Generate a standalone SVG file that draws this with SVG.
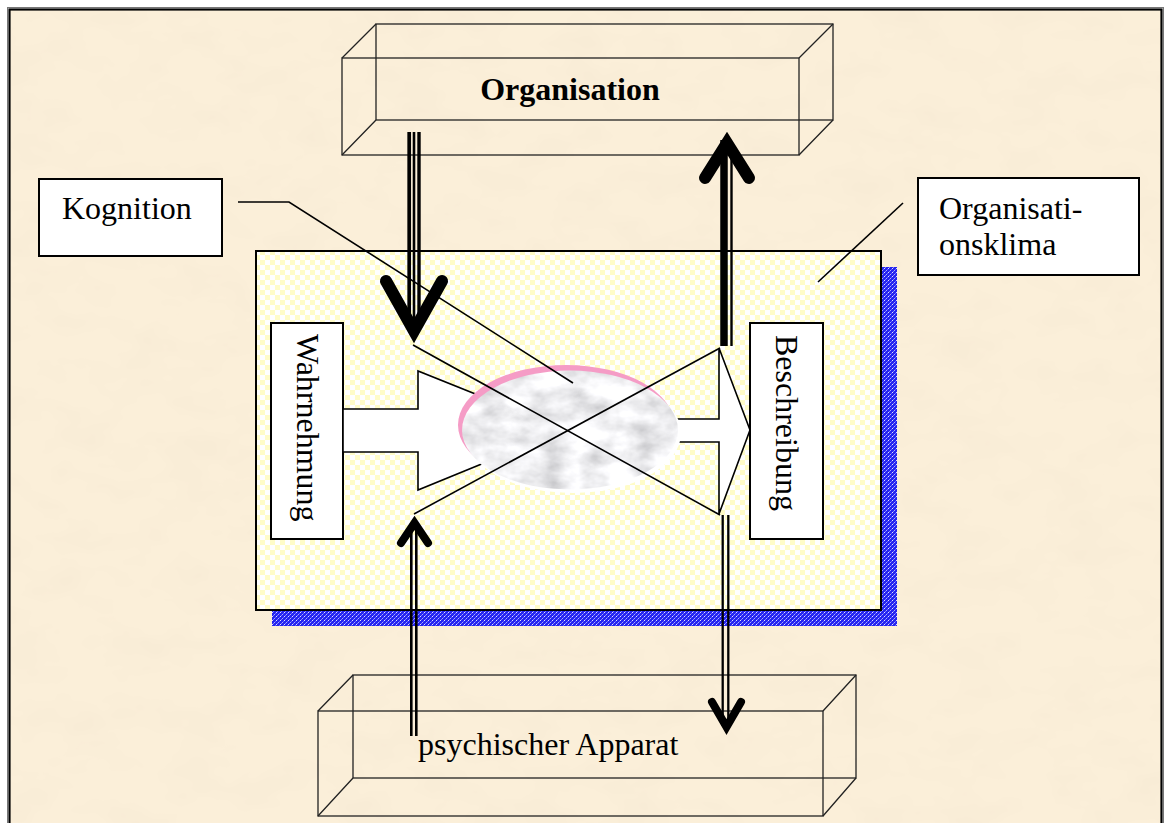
<svg xmlns="http://www.w3.org/2000/svg" width="1167" height="823" viewBox="0 0 1167 823">
  <style>
    .wire { fill: none; stroke: #222; stroke-width: 1.3; }
    .label { fill: #fff; stroke: #000; stroke-width: 2; }
    .txt { font-family: "Liberation Serif", "Times New Roman", serif; font-size: 32px; fill: #000; }
    .thin { stroke: #000; stroke-width: 1.6; fill: none; }
    .head { fill: none; stroke: #000; stroke-linecap: round; stroke-linejoin: miter; stroke-miterlimit: 10; }
    .bar { stroke: #000; fill: none; }
  </style>
  <defs>
    <pattern id="check" width="10" height="10" patternUnits="userSpaceOnUse">
      <rect width="10" height="10" fill="#ffffff"/>
      <rect width="5" height="5" fill="#fffcc8"/>
      <rect x="5" y="5" width="5" height="5" fill="#fffcc8"/>
    </pattern>
    <pattern id="dither" width="4" height="4" patternUnits="userSpaceOnUse">
      <rect width="4" height="4" fill="#2424f0"/>
      <rect x="0" y="0" width="1" height="1" fill="#e0e0ff"/>
      <rect x="2" y="2" width="1" height="1" fill="#a8a8ff"/>
      <rect x="3" y="1" width="1" height="1" fill="#6666ff"/>
      <rect x="1" y="3" width="1" height="1" fill="#8080ff"/>
    </pattern>
    <filter id="parchment" x="0" y="0" width="100%" height="100%">
      <feTurbulence type="fractalNoise" baseFrequency="0.018 0.03" numOctaves="3" seed="7" result="n"/>
      <feColorMatrix in="n" type="matrix" values="0 0 0 0 0.9  0 0 0 0 0.8  0 0 0 0 0.64  0.9 0 0 0 -0.38"/>
    </filter>
    <filter id="marble" x="0" y="0" width="100%" height="100%">
      <feTurbulence type="fractalNoise" baseFrequency="0.03 0.045" numOctaves="4" seed="11" result="n"/>
      <feColorMatrix in="n" type="matrix" values="0.8 0 0 0 0.47  0.8 0 0 0 0.47  0.8 0 0 0 0.49  0 0 0 0 1" result="g"/>
      <feComposite in="g" in2="SourceAlpha" operator="in"/>
    </filter>
  </defs>

  <!-- page and frame -->
  <rect width="1167" height="823" fill="#ffffff"/>
  <rect x="9" y="9" width="1153" height="830" fill="#fbefd9"/>
  <rect x="9" y="9" width="1153" height="830" fill="#fff" filter="url(#parchment)"/>
  <rect x="7.5" y="7.5" width="1156" height="840" fill="none" stroke="#777" stroke-width="1"/>
  <rect x="9.5" y="9.5" width="1152" height="840" fill="none" stroke="#000" stroke-width="2.2"/>

  <!-- Organisation (wireframe block) -->
  <g id="organisation">
    <rect class="wire" x="342" y="58" width="457" height="97"/>
    <rect class="wire" x="376" y="24" width="457" height="96"/>
    <path class="wire" d="M342 58 L376 24 M799 58 L833 24 M799 155 L833 120 M342 155 L376 120"/>
    <text class="txt" x="570" y="100" text-anchor="middle" font-weight="bold">Organisation</text>
  </g>

  <!-- psychischer Apparat (wireframe block) -->
  <g id="psychischer-apparat">
    <rect class="wire" x="318" y="711" width="505" height="105"/>
    <rect class="wire" x="353" y="675" width="503" height="103"/>
    <path class="wire" d="M318 711 L353 675 M823 711 L856 675 M823 816 L856 778 M318 816 L353 778"/>
    <text class="txt" x="418" y="755" font-size="33">psychischer Apparat</text>
  </g>

  <!-- Organisationsklima panel -->
  <g id="klima-panel">
    <rect x="272" y="267" width="625" height="359" fill="url(#dither)"/>
    <rect x="256" y="251" width="625" height="359" fill="url(#check)" stroke="#000" stroke-width="2"/>
  </g>

  <g id="wahrnehmung">
    <rect class="label" x="271" y="323" width="72" height="216" stroke-width="1.8"/>
    <text class="txt" transform="translate(297 334) rotate(90)">Wahrnehmung</text>
  </g>

  <g id="beschreibung">
    <rect class="label" x="750" y="323" width="73" height="216" stroke-width="1.8"/>
    <text class="txt" transform="translate(776 335) rotate(90)">Beschreibung</text>
  </g>

  <!-- block arrows through the cognition stage -->
  <g id="flow-arrows">
    <polygon points="343,409 418,409 418,371 565,430 418,490 418,452 343,452" fill="#fff" stroke="#000" stroke-width="1.6"/>
    <polygon points="630,419 719,419 719,348 750,430 719,514 719,442 630,442" fill="#fff" stroke="#000" stroke-width="1.6"/>
  </g>

  <g id="kognition-core">
    <ellipse cx="573" cy="433" rx="108" ry="60" fill="#ffffff"/>
    <ellipse cx="566" cy="425" rx="108" ry="60" fill="#f59cc6"/>
    <ellipse cx="570" cy="430" rx="108" ry="59.5" fill="#ddd" filter="url(#marble)"/>
  </g>

  <!-- connectors -->
  <g id="connectors">
    <!-- crossing lines -->
    <line class="thin" x1="413" y1="345" x2="720" y2="515"/>
    <line class="thin" x1="414" y1="514" x2="720" y2="348"/>
    <!-- leader lines -->
    <polyline class="thin" points="238,202 289,202 573,383"/>
    <line class="thin" x1="903" y1="203" x2="818" y2="282"/>

    <!-- Organisation down to Wahrnehmung -->
    <line class="bar" x1="409.2" y1="132" x2="409.2" y2="322" stroke-width="3.7"/>
    <line class="bar" x1="414" y1="132" x2="414" y2="322" stroke-width="2.6"/>
    <line class="bar" x1="419" y1="132" x2="419" y2="322" stroke-width="3.4"/>
    <polyline class="head" points="386,281 414,331 442,281" stroke-width="12"/>

    <!-- Beschreibung up to Organisation -->
    <line class="bar" x1="724" y1="140" x2="724" y2="346" stroke-width="7.5"/>
    <line class="bar" x1="731.5" y1="157" x2="731.5" y2="346" stroke-width="2.4"/>
    <polyline class="head" points="705,178 727,143 749,178" stroke-width="12"/>

    <!-- psychischer Apparat up to Wahrnehmung -->
    <line class="bar" x1="411.3" y1="524" x2="411.3" y2="736" stroke-width="2.6"/>
    <line class="bar" x1="416.3" y1="524" x2="416.3" y2="736" stroke-width="2.6"/>
    <polyline class="head" points="401,543 414.5,523 428,543" stroke-width="8"/>

    <!-- Beschreibung down to psychischer Apparat -->
    <line class="bar" x1="722.7" y1="515" x2="722.7" y2="726" stroke-width="2.3"/>
    <line class="bar" x1="728.3" y1="515" x2="728.3" y2="726" stroke-width="2.3"/>
    <polyline class="head" points="712,702 726.5,727 741,702" stroke-width="8"/>
  </g>

  <g id="kognition">
    <rect class="label" x="39" y="179" width="183" height="77"/>
    <text class="txt" x="62" y="219">Kognition</text>
  </g>

  <g id="organisationsklima">
    <rect class="label" x="918" y="178" width="221" height="97"/>
    <text class="txt" x="939" y="219">Organisati-</text>
    <text class="txt" x="939" y="255">onsklima</text>
  </g>
</svg>
